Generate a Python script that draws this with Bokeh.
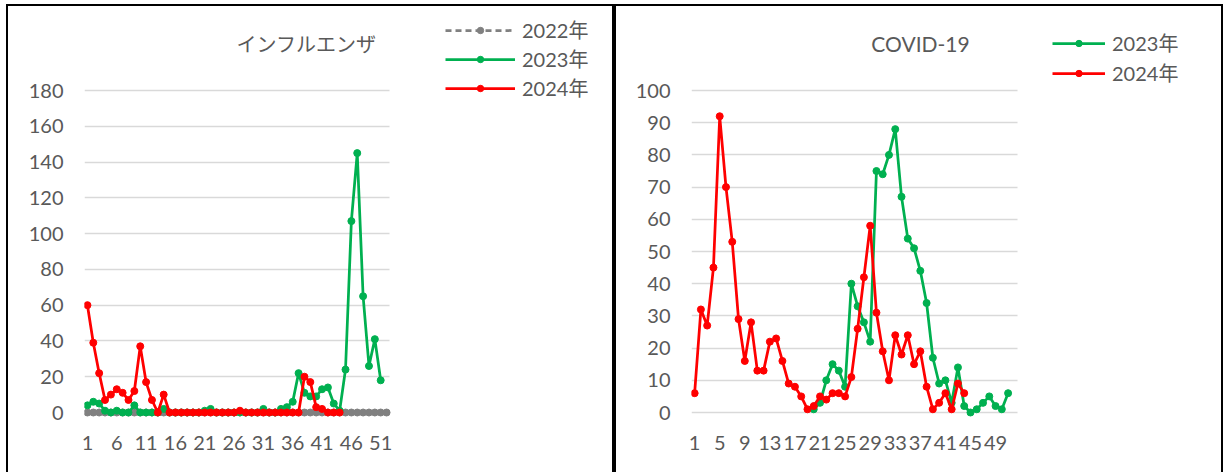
from bokeh.plotting import figure
from bokeh.models import Range1d, FixedTicker, Legend, LegendItem, Label, Grid
from bokeh.layouts import row
from bokeh.embed import file_html
from bokeh.resources import INLINE

# ---------------- data ----------------
flu_title = "インフルエンザ"
covid_title = "COVID-19"
series_names = ["2022年", "2023年", "2024年"]

flu_weeks_total = 52
flu_y_max = 180
flu_x_ticks = [1, 6, 11, 16, 21, 26, 31, 36, 41, 46, 51]
flu_y_ticks = [0, 20, 40, 60, 80, 100, 120, 140, 160, 180]

flu_2022 = [0, 0, 0, 0, 0, 0, 0, 0, 0, 0, 0, 0, 0, 0, 0, 0, 0, 0, 0, 0, 0, 0, 0, 0, 0, 0,
            0, 0, 0, 0, 0, 0, 0, 0, 0, 0, 0, 0, 0, 0, 0, 0, 0, 0, 0, 0, 0, 0, 0, 0, 0, 0]
flu_2023 = [4, 6, 5, 1, 0, 1, 0, 0, 4, 0, 0, 0, 0, 2, 0, 0, 0, 0, 0, 0, 1, 2, 0, 0, 0, 0,
            0, 0, 0, 0, 2, 0, 0, 2, 3, 6, 22, 11, 9, 9, 13, 14, 5, 1, 24, 107, 145, 65, 26, 41, 18]
flu_2024 = [60, 39, 22, 7, 10, 13, 11, 7, 12, 37, 17, 7, 0, 10, 0, 0, 0, 0, 0, 0, 0, 0,
            0, 0, 0, 0, 1, 0, 0, 0, 0, 0, 0, 0, 0, 0, 0, 20, 17, 3, 2, 0, 0, 0]

covid_weeks_total = 52
covid_y_max = 100
covid_x_ticks = [1, 5, 9, 13, 17, 21, 25, 29, 33, 37, 41, 45, 49]
covid_y_ticks = [0, 10, 20, 30, 40, 50, 60, 70, 80, 90, 100]
covid_2023_first_week = 20
covid_2023 = [1, 3, 10, 15, 13, 8, 40, 33, 28, 22, 75, 74, 80, 88, 67, 54, 51, 44, 34, 17,
              9, 10, 3, 14, 2, 0, 1, 3, 5, 2, 1, 6]
covid_2024 = [6, 32, 27, 45, 92, 70, 53, 29, 16, 28, 13, 13, 22, 23, 16, 9, 8, 5, 1, 2,
              5, 4, 6, 6, 5, 11, 26, 42, 58, 31, 19, 10, 24, 18, 24, 15, 19, 8, 1, 3, 6, 1, 9, 6]

# ---------------- styles / geometry (pixels) ----------------
TXT = "#595959"
NUM_FONT = "Lato"
MIX_FONT = "Lato, Noto Sans CJK JP"
JP_FONT = "Noto Sans CJK JP"
C2022 = "#808080"
C2023 = "#00b050"
C2024 = "#ff0000"
GRID = "#d9d9d9"
H = 468             # canvas height
DATA_TOP = 84       # canvas row of the top gridline
DATA_BOTTOM = 406   # canvas row of the zero gridline
PAD_BOTTOM = 6      # frame extends a little below zero so dots are not cut
HAS_CROSS = "cross_bounds" in Grid.properties()


def base_fig(w, data_left, data_w, n_weeks, y_max, y_ticks, x_ticks):
    px_x = data_w / n_weeks
    px_y = (DATA_BOTTOM - DATA_TOP) / y_max
    x_end = 0.5 + (w - data_left) / px_x
    y_end = y_max + DATA_TOP / px_y
    y_start = -PAD_BOTTOM / px_y
    p = figure(width=w, height=H,
               x_range=Range1d(0.5, x_end), y_range=Range1d(y_start, y_end),
               output_backend="svg", toolbar_location=None,
               min_border_left=data_left, min_border_right=0,
               min_border_top=0, min_border_bottom=H - DATA_BOTTOM - PAD_BOTTOM)
    p.outline_line_color = None
    p.background_fill_color = "white"
    p.border_fill_color = "white"
    p.xgrid.grid_line_color = None
    p.yaxis.ticker = FixedTicker(ticks=y_ticks)
    p.xaxis.ticker = FixedTicker(ticks=x_ticks)
    if HAS_CROSS:
        p.ygrid.ticker = FixedTicker(ticks=y_ticks)
        p.ygrid.grid_line_color = GRID
        p.ygrid.grid_line_width = 1.5
        p.ygrid.cross_bounds = (0.5, n_weeks + 0.5)
    else:
        p.ygrid.grid_line_color = None
        p.segment(x0=[0.5] * len(y_ticks), x1=[n_weeks + 0.5] * len(y_ticks),
                  y0=y_ticks, y1=y_ticks, line_color=GRID, line_width=1.5)
    for ax in (p.xaxis[0], p.yaxis[0]):
        ax.axis_line_color = None
        ax.major_tick_line_color = None
        ax.minor_tick_line_color = None
        ax.major_tick_out = 0
        ax.major_tick_in = 0
        ax.major_label_text_font = NUM_FONT
        ax.major_label_text_font_size = "20px"
        ax.major_label_text_color = TXT
    p.yaxis.major_label_standoff = 21
    p.xaxis.major_label_standoff = 17
    p.styles = {"border-left": "2px solid black", "border-top": "2px solid black",
                "border-right": "2px solid black"}
    return p


def add_series(p, xs, ys, color, dash="solid"):
    l = p.line(xs, ys, line_color=color, line_width=2.75, line_dash=dash)
    s = p.scatter(xs, ys, size=7, fill_color=color, line_color=color)
    return [l, s]


def make_legend(items, loc, glyph_w, spacing):
    return Legend(items=items, location=loc, glyph_width=glyph_w, glyph_height=16,
                  label_standoff=7, spacing=spacing, padding=0, margin=0,
                  border_line_color=None, background_fill_alpha=0,
                  label_text_font=MIX_FONT, label_text_font_size="20px",
                  label_text_color=TXT)


# ---------------- left: influenza ----------------
p1 = base_fig(608, 76, 305, flu_weeks_total, flu_y_max, flu_y_ticks, flu_x_ticks)
r22 = add_series(p1, list(range(1, len(flu_2022) + 1)), flu_2022, C2022, "6 4")
r23 = add_series(p1, list(range(1, len(flu_2023) + 1)), flu_2023, C2023)
r24 = add_series(p1, list(range(1, len(flu_2024) + 1)), flu_2024, C2024)
p1.add_layout(make_legend([LegendItem(label=series_names[0], renderers=r22),
                           LegendItem(label=series_names[1], renderers=r23),
                           LegendItem(label=series_names[2], renderers=r24)],
                          (361, 316), 70, 0))
p1.add_layout(Label(x=38.35, y=206.3, text=flu_title, text_font=JP_FONT,
                    text_font_size="20px", text_color=TXT, text_align="center",
                    text_baseline="middle"))

# ---------------- right: COVID-19 ----------------
p2 = base_fig(609, 75, 326, covid_weeks_total, covid_y_max, covid_y_ticks, covid_x_ticks)
x23 = list(range(covid_2023_first_week, covid_2023_first_week + len(covid_2023)))
c23 = add_series(p2, x23, covid_2023, C2023)
c24 = add_series(p2, list(range(1, len(covid_2024) + 1)), covid_2024, C2024)
p2.add_layout(make_legend([LegendItem(label=series_names[1], renderers=c23),
                           LegendItem(label=series_names[2], renderers=c24)],
                          (361, 331), 53, 1))
p2.add_layout(Label(x=37.03, y=114.6, text=covid_title, text_font=NUM_FONT,
                    text_font_size="21px", text_color=TXT, text_align="center",
                    text_baseline="middle"))

layout = row(p1, p2, styles={"margin-left": "6px", "margin-top": "4px"})
open("out.html", "w").write(file_html(layout, INLINE))
